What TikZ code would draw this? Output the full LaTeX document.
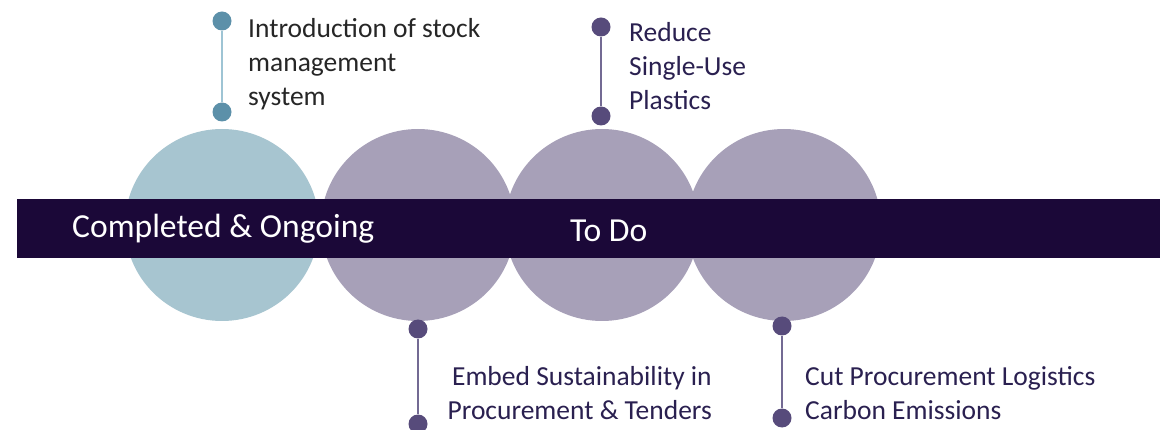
\documentclass[tikz,border=0pt]{standalone}
\usepackage{fontspec}
\setmainfont{Carlito}
\definecolor{band}{HTML}{1B0838}
\definecolor{tealc}{HTML}{A7C5D0}
\definecolor{purc}{HTML}{A7A0B8}
\definecolor{tealdot}{HTML}{5C90A9}
\definecolor{tealline}{HTML}{9EC4D4}
\definecolor{purdot}{HTML}{574B7B}
\definecolor{purline}{HTML}{736A93}
\definecolor{purtext}{HTML}{2A2050}
\definecolor{graytext}{HTML}{262626}
\tikzset{
  bubble/.style={ellipse, minimum width=194pt, minimum height=192pt, inner sep=0pt},
  tdot/.style={circle, fill=tealdot, minimum size=19pt, inner sep=0pt},
  pdot/.style={circle, fill=purdot, minimum size=19pt, inner sep=0pt},
  lbl/.style={inner sep=0pt, font=\fontsize{27.5}{34}\selectfont},
  bandtext/.style={inner sep=0pt, text=white, font=\fontsize{33.6}{40}\selectfont, anchor=base west}
}
\usetikzlibrary{shapes.geometric}
\begin{document}
\begin{tikzpicture}[x=1pt,y=-1pt]
\useasboundingbox (0,0) rectangle (1160,430);
% bubbles
\node[bubble, fill=tealc] (b1) at (222,225) {};
\node[bubble, fill=purc] (b2) at (418,225) {};
\node[bubble, fill=purc] (b3) at (602,225) {};
\node[bubble, fill=purc] (b4) at (784,225) {};
% band
\fill[band] (17,199) rectangle (1160,258);
\node[bandtext] (t1) at (72,238) {Completed \& Ongoing};
\node[bandtext] (t2) at (570,242) {To Do};
% connector 1
\node[tdot] (c1a) at (222,21) {};
\node[tdot] (c1b) at (222,112) {};
\draw[tealline, line width=2.2pt] (c1a) -- (c1b);
\node[lbl, text=graytext, align=left, anchor=north west] (l1) at (248,18) {Introduction of stock\\management\\system};
% connector 2
\node[pdot] (c2a) at (601,27) {};
\node[pdot] (c2b) at (601,116) {};
\draw[purline, line width=1.6pt] (c2a) -- (c2b);
\node[lbl, text=purtext, align=left, anchor=north west] (l2) at (629,22) {Reduce\\Single-Use\\Plastics};
% connector 3
\node[pdot] (c3a) at (418,329) {};
\node[pdot] (c3b) at (418,424) {};
\draw[purline, line width=1.6pt] (c3a) -- (c3b);
\node[lbl, text=purtext, align=right, anchor=north east] (l3) at (712,366) {Embed Sustainability in\\Procurement \& Tenders};
% connector 4
\node[pdot] (c4a) at (782,326) {};
\node[pdot] (c4b) at (782,418) {};
\draw[purline, line width=1.6pt] (c4a) -- (c4b);
\node[lbl, text=purtext, align=left, anchor=north west] (l4) at (805,366) {Cut Procurement Logistics\\Carbon Emissions};
\end{tikzpicture}
\end{document}
